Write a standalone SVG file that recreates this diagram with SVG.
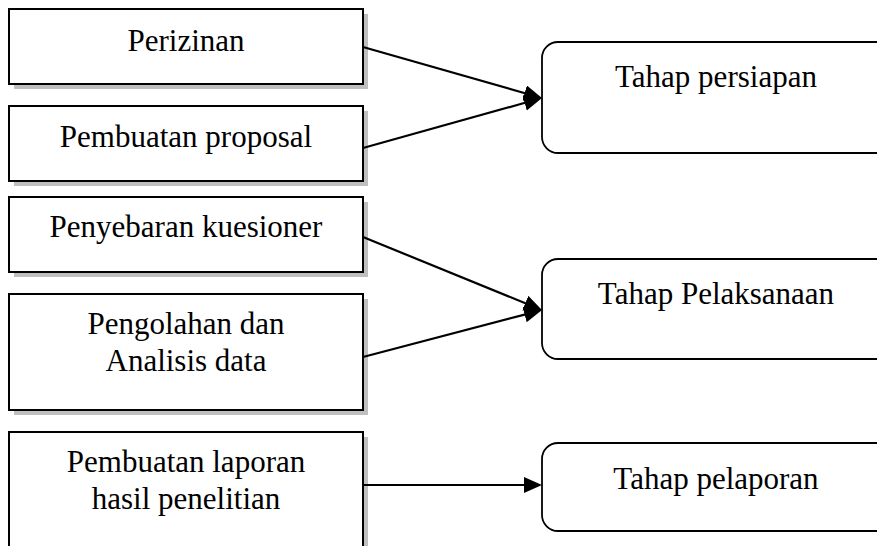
<svg xmlns="http://www.w3.org/2000/svg" width="877" height="546" viewBox="0 0 877 546">
<defs>
<marker id="ah" markerUnits="userSpaceOnUse" markerWidth="20" markerHeight="18" refX="4" refY="8" orient="auto">
<path d="M0,0 L18,8 L0,16 z" fill="#000"/>
</marker>
<style>
.sh{fill:#bfbfbf;stroke:none}
.bx{fill:#fff;stroke:#000;stroke-width:2}
.rb{fill:#fff;stroke:#000;stroke-width:1.8}
text{font-family:"Liberation Serif","Times New Roman",serif;font-size:31px;fill:#000;text-anchor:middle}
.ln{stroke:#000;stroke-width:2.2;fill:none;marker-end:url(#ah)}
</style>
</defs>
<rect width="877" height="546" fill="#fff"/>
<g id="perizinan">
<rect class="sh" x="14" y="14" width="354" height="75"/>
<rect class="bx" x="9" y="9" width="354" height="75"/>
<text x="186" y="50.5">Perizinan</text>
</g>
<g id="proposal">
<rect class="sh" x="14" y="111" width="354" height="75"/>
<rect class="bx" x="9" y="106" width="354" height="75"/>
<text x="186" y="147">Pembuatan proposal</text>
</g>
<g id="kuesioner">
<rect class="sh" x="14" y="202" width="354" height="75"/>
<rect class="bx" x="9" y="197" width="354" height="75"/>
<text x="186" y="237">Penyebaran kuesioner</text>
</g>
<g id="pengolahan">
<rect class="sh" x="14" y="299" width="354" height="116"/>
<rect class="bx" x="9" y="294" width="354" height="116"/>
<text x="186" y="334">Pengolahan dan</text>
<text x="186" y="371">Analisis data</text>
</g>
<g id="laporan">
<rect class="sh" x="14" y="437" width="354" height="120"/>
<rect class="bx" x="9" y="432" width="354" height="120"/>
<text x="186" y="472">Pembuatan laporan</text>
<text x="186" y="509">hasil penelitian</text>
</g>
<g id="persiapan">
<rect class="rb" x="542" y="42" width="360" height="111" rx="16" ry="16"/>
<text x="716" y="86.5">Tahap persiapan</text>
</g>
<g id="pelaksanaan">
<rect class="rb" x="542" y="259" width="360" height="100" rx="16" ry="16"/>
<text x="716" y="304">Tahap Pelaksanaan</text>
</g>
<g id="pelaporan">
<rect class="rb" x="542" y="443" width="360" height="88" rx="16" ry="16"/>
<text x="716" y="489">Tahap pelaporan</text>
</g>
<g id="connectors">
<line class="ln" x1="363" y1="47" x2="528.5" y2="94.2"/>
<line class="ln" x1="363" y1="148" x2="528.5" y2="101.8"/>
<line class="ln" x1="363" y1="237" x2="529" y2="304.7"/>
<line class="ln" x1="363" y1="357" x2="528.5" y2="313.6"/>
<line class="ln" x1="363" y1="485" x2="528" y2="485"/>
</g>
</svg>
